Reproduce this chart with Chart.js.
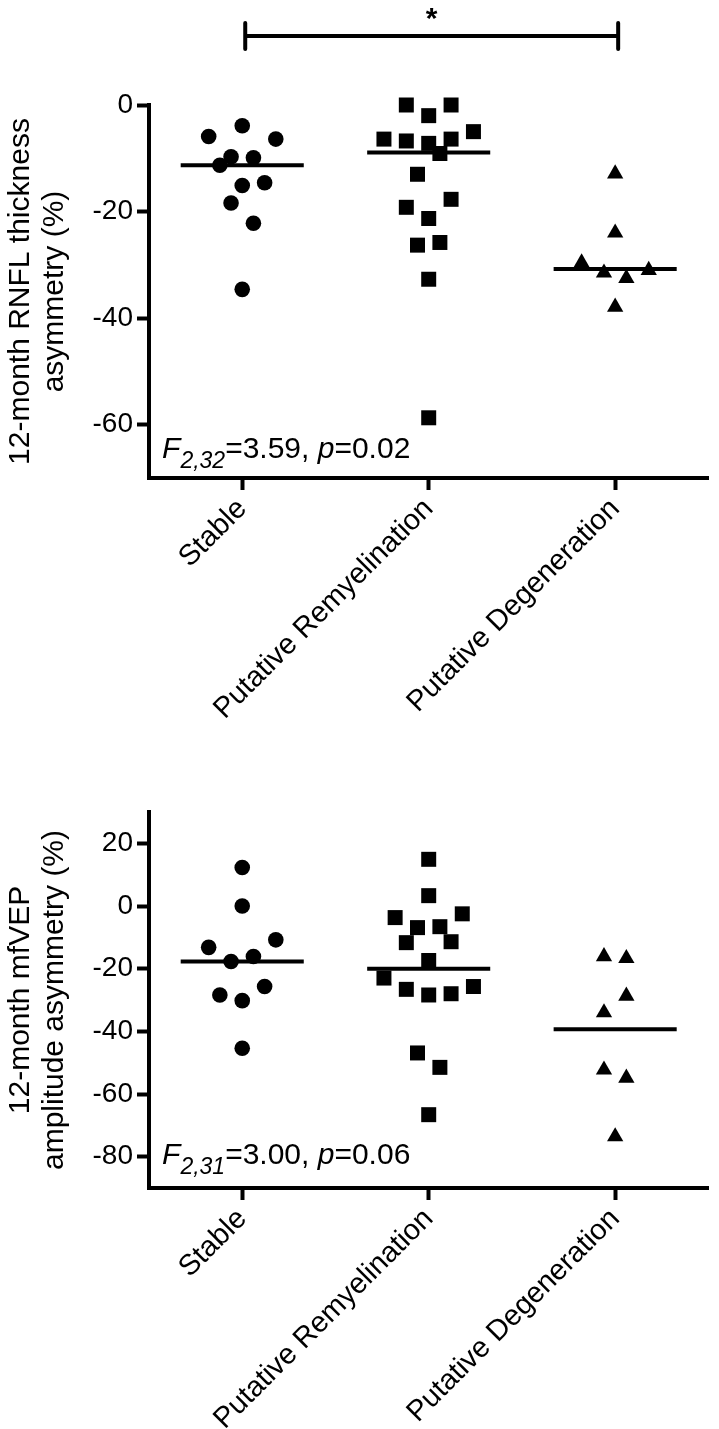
<!DOCTYPE html>
<html>
<head>
<meta charset="utf-8">
<script src="https://cdn.jsdelivr.net/npm/chart.js@4.4.1/dist/chart.umd.min.js"></script>
<style>
  html, body { margin: 0; padding: 0; background: #fff; }
  canvas { display: block; }
</style>
</head>
<body>
<canvas id="chart-rnfl" width="719" height="760"></canvas>
<canvas id="chart-mfvep" width="719" height="669"></canvas>
<script>
const CATEGORIES = ['Stable', 'Putative Remyelination', 'Putative Degeneration'];

// --- top panel: 12-month RNFL thickness asymmetry (%) ---
const rnflStable = [-3.9, -5.9, -6.4, -9.7, -9.9, -11.3, -15.1, -14.6, -18.4, -22.2, -34.6];
const rnflStableCol = [0, -3, 3, -1, 1, -2, 0, 2, -1, 1, 0];
const rnflRemyel = [0, 0, -2.0, -6.4, -6.75, -7.2, -6.4, -5.0, -9.1, -13.0, -19.2, -17.7, -21.3, -26.3, -25.8, -32.7, -58.7];
const rnflRemyelCol = [-2, 2, 0, -4, -2, 0, 2, 4, 1, -1, -2, 2, 0, -1, 1, 0, 0];
const rnflDegen = [-12.9, -24.0, -29.6, -31.5, -32.5, -31.0, -37.9];
const rnflDegenCol = [0, 0, -3, -1, 1, 3, 0];
const rnflLines = [-11.3, -8.9, -30.8];
const rnflTicks = [0, -20, -40, -60];

// --- bottom panel: 12-month mfVEP amplitude asymmetry (%) ---
const vepStable = [12.3, 0, -13.2, -10.8, -17.7, -16.1, -28.4, -30.2, -25.7, -45.4];
const vepStableCol = [0, 0, -3, 3, -1, 1, -2, 0, 2, 0];
const vepRemyel = [14.9, 3.3, -3.7, -2.5, -6.9, -6.6, -11.7, -11.4, -17.4, -23.0, -26.6, -28.4, -28.0, -25.7, -46.9, -51.5, -66.6];
const vepRemyelCol = [0, 0, -3, 3, -1, 1, -2, 2, 0, -4, -2, 0, 2, 4, -1, 1, 0];
const vepDegen = [-16.1, -16.7, -28.7, -34.0, -52.3, -54.9, -73.6];
const vepDegenCol = [-1, 1, 1, -1, -1, 1, 0];
const vepLines = [-17.7, -20.0, -39.3];
const vepTicks = [20, 0, -20, -40, -60, -80];

const JITTER = 0.06;      // one column step, in category units
const LINE_HALF = 0.33;   // half-width of the centre line
const FONT = "'Liberation Sans', Arial, sans-serif";

Chart.defaults.font.family = FONT;
Chart.defaults.color = '#000';

function groupPoints(values, cols, catIndex) {
  return values.map((v, i) => ({ x: catIndex + cols[i] * JITTER, y: v }));
}

// draws the F statistic and, optionally, the significance bracket
const annotPlugin = {
  id: 'annot',
  afterDraw(chart, args, opts) {
    const { ctx } = chart;
    const xs = chart.scales.x, ys = chart.scales.y;
    ctx.save();
    ctx.fillStyle = '#000';
    ctx.textBaseline = 'alphabetic';
    ctx.textAlign = 'left';
    let x = xs.getPixelForValue(opts.statX);
    const y = ys.getPixelForValue(opts.statY);
    const parts = [
      ['italic 30px ' + FONT, 'F', 0],
      ['italic 23px ' + FONT, opts.df, 10],
      ['30px ' + FONT, '=' + opts.fval + ', ', 0],
      ['italic 30px ' + FONT, 'p', 0],
      ['30px ' + FONT, '=' + opts.pval, 0],
    ];
    parts.forEach(([font, text, dy]) => {
      ctx.font = font;
      ctx.fillText(text, x, y + dy);
      x += ctx.measureText(text).width;
    });

    if (opts.bracket) {
      const x1 = xs.getPixelForValue(opts.bracket[0]) + 3;
      const x2 = xs.getPixelForValue(opts.bracket[1]) + 3;
      const by = chart.chartArea.top - 69;
      ctx.strokeStyle = '#000';
      ctx.lineWidth = 4;
      ctx.lineCap = 'round';
      ctx.beginPath();
      ctx.moveTo(x1, by); ctx.lineTo(x2, by);
      ctx.moveTo(x1, by - 13); ctx.lineTo(x1, by + 13);
      ctx.moveTo(x2, by - 13); ctx.lineTo(x2, by + 13);
      ctx.stroke();
      ctx.font = 'bold 30px ' + FONT;
      ctx.textAlign = 'center';
      ctx.fillText('*', (x1 + x2) / 2, by - 8);
    }
    ctx.restore();
  }
};

function makePanel(id, cfg) {
  const H = document.getElementById(id).height;
  const markers = [
    { pts: groupPoints(cfg.stable, cfg.stableCol, 0), style: 'circle', r: 7.8 },
    { pts: groupPoints(cfg.remyel, cfg.remyelCol, 1), style: 'rect', r: 10.6 },
    { pts: groupPoints(cfg.degen, cfg.degenCol, 2), style: 'triangle', r: 9.4 },
  ];
  const datasets = markers.map(m => ({
    type: 'scatter',
    data: m.pts,
    pointStyle: m.style,
    pointRadius: m.r,
    pointHoverRadius: m.r,
    backgroundColor: '#000',
    borderColor: '#000',
    borderWidth: 0,
    clip: false,
  }));
  cfg.lines.forEach((v, i) => {
    datasets.push({
      type: 'line',
      data: [{ x: i - LINE_HALF, y: v }, { x: i + LINE_HALF, y: v }],
      borderColor: '#000',
      borderWidth: 4,
      pointRadius: 0,
      clip: false,
    });
  });

  return new Chart(document.getElementById(id), {
    type: 'scatter',
    data: { datasets },
    options: {
      responsive: false,
      animation: false,
      devicePixelRatio: 1,
      layout: { padding: { top: cfg.top, right: 9, left: 0, bottom: 0 } },
      plugins: {
        legend: { display: false },
        tooltip: { enabled: false },
        annot: cfg.annot,
      },
      scales: {
        x: {
          type: 'linear',
          min: -0.5, max: 2.5,
          afterBuildTicks: s => { s.ticks = CATEGORIES.map((c, i) => ({ value: i })); },
          afterFit: s => { s.height = H - cfg.bottom; },
          border: { color: '#000', width: 4 },
          grid: { drawOnChartArea: false, tickLength: 12, tickWidth: 4, tickColor: '#000' },
          ticks: {
            color: '#000', font: { size: 29 }, autoSkip: false,
            minRotation: 45, maxRotation: 45, padding: 2,
            callback: v => CATEGORIES[v],
          },
        },
        y: {
          min: cfg.min, max: cfg.max,
          afterBuildTicks: s => { s.ticks = cfg.ticks.map(v => ({ value: v })); },
          afterFit: s => { s.width = 149; },
          border: { color: '#000', width: 4 },
          grid: { drawOnChartArea: false, tickLength: 12, tickWidth: 4, tickColor: '#000' },
          ticks: { color: '#000', font: { size: 28 }, padding: 4 },
          title: {
            display: true, text: cfg.title, color: '#000',
            font: { size: 30, lineHeight: 1.12 }, padding: { top: 4, bottom: 0 },
          },
        },
      },
    },
    plugins: [annotPlugin],
  });
}

makePanel('chart-rnfl', {
  stable: rnflStable, stableCol: rnflStableCol,
  remyel: rnflRemyel, remyelCol: rnflRemyelCol,
  degen: rnflDegen, degenCol: rnflDegenCol,
  lines: rnflLines, ticks: rnflTicks,
  min: -70, max: 0, top: 105, bottom: 478,
  title: ['12-month RNFL thickness', 'asymmetry (%)'],
  annot: { statX: -0.43, statY: -66.2, df: '2,32', fval: '3.59', pval: '0.02', bracket: [0, 2] },
});

makePanel('chart-mfvep', {
  stable: vepStable, stableCol: vepStableCol,
  remyel: vepRemyel, remyelCol: vepRemyelCol,
  degen: vepDegen, degenCol: vepDegenCol,
  lines: vepLines, ticks: vepTicks,
  min: -90, max: 30, top: 52, bottom: 428,
  title: ['12-month mfVEP', 'amplitude asymmetry (%)'],
  annot: { statX: -0.43, statY: -82.2, df: '2,31', fval: '3.00', pval: '0.06', bracket: null },
});
</script>
</body>
</html>
